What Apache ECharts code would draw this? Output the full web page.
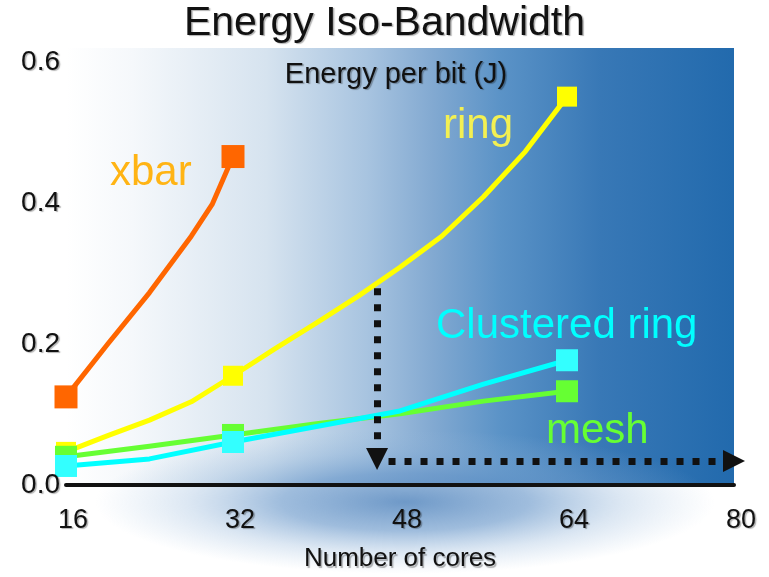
<!DOCTYPE html>
<html><head><meta charset="utf-8">
<script src="https://cdn.jsdelivr.net/npm/echarts@6/dist/echarts.min.js"></script>
<style>html,body{margin:0;padding:0;background:#fff}#c{width:769px;height:577px}</style>
</head><body><div id="c"></div>
<script>
// ---- data ----
const xTicks = [16, 32, 48, 64, 80];
const yTicks = [0.0, 0.2, 0.4, 0.6];
const xbarCores = [16, 20, 24, 28, 30, 32];
const xbarEnergy = [0.125, 0.200, 0.273, 0.353, 0.398, 0.466];
const ringCores = [16, 20, 24, 28, 32, 36, 40, 44, 48, 52, 56, 60, 64];
const ringEnergy = [0.047, 0.070, 0.092, 0.118, 0.155, 0.193, 0.230, 0.268, 0.309, 0.353, 0.409, 0.473, 0.551];
const meshCores = [16, 24, 32, 40, 48, 56, 64];
const meshEnergy = [0.040, 0.055, 0.071, 0.087, 0.101, 0.119, 0.133];
const crCores = [16, 24, 32, 40, 48, 56, 64];
const crEnergy = [0.027, 0.037, 0.061, 0.083, 0.105, 0.143, 0.177];
const markerCores = [16, 32, 64];
const arrowDown = [[45.8, 0.279], [45.8, 0.037]];
const arrowRight = [[46.9, 0.034], [80, 0.034]];
const seriesNames = ['xbar', 'ring', 'Clustered ring', 'mesh'];

const FONT = '"Liberation Sans", Arial, sans-serif';
const shadow = {textShadowColor: 'rgba(0,0,0,0.3)', textShadowOffsetX: 1.5, textShadowOffsetY: 1.5, textShadowBlur: 1};

function pts(xs, ys) { return xs.map((x, i) => [x, ys[i]]); }
function mkSeries(name, xs, ys, color, lineColor, size, extra) {
  return Object.assign({
    name, type: 'line', data: pts(xs, ys),
    showAllSymbol: true, symbol: 'rect',
    symbolSize: (v) => markerCores.indexOf(v[0]) >= 0 ? size : 0,
    itemStyle: {color: color},
    lineStyle: {color: lineColor, width: 5, join: 'round'},
    smooth: false,
    emphasis: {disabled: true},
    animation: false
  }, extra || {});
}

const chart = echarts.init(document.getElementById('c'));
chart.setOption({
  animation: false,
  title: [
    {text: 'Energy Iso-Bandwidth', left: 'center', top: 3, padding: 0,
     textStyle: Object.assign({fontFamily: FONT, fontSize: 41, fontWeight: 'normal', color: '#111'}, shadow)},
    {text: 'Energy per bit (J)', left: 396, textAlign: 'center', top: 60, padding: 0,
     textStyle: Object.assign({fontFamily: FONT, fontSize: 29, fontWeight: 'normal', color: '#111'}, shadow)}
  ],
  grid: {
    left: 66, right: 35, top: 48, bottom: 91, show: true, borderWidth: 0,
    backgroundColor: {type: 'linear', x: 0, y: 0, x2: 1, y2: 0, colorStops: [
      {offset: 0, color: '#ffffff'}, {offset: 0.1, color: '#f5f8fb'},
      {offset: 0.3, color: '#d6e3ef'}, {offset: 0.45, color: '#a8c4e0'},
      {offset: 0.55, color: '#82a9d1'}, {offset: 0.65, color: '#5b93c7'},
      {offset: 0.8, color: '#3878b6'}, {offset: 1, color: '#226aad'}]}
  },
  xAxis: {
    type: 'value', min: xTicks[0], max: xTicks[xTicks.length - 1], interval: 16, z: 5,
    name: 'Number of cores', nameLocation: 'middle', nameGap: 61,
    nameTextStyle: Object.assign({fontFamily: FONT, fontSize: 26, color: '#111', padding: [0, 0, 0, 0]}, shadow),
    axisLine: {show: true, lineStyle: {color: '#111', width: 4}},
    axisTick: {show: false}, splitLine: {show: false},
    axisLabel: Object.assign({fontFamily: FONT, fontSize: 27, color: '#111', margin: 22, padding: [0, 0, 0, 14],
      formatter: (v) => xTicks.indexOf(v) >= 0 ? String(v) : ''}, shadow)
  },
  yAxis: {
    type: 'value', min: 0, max: 0.62, interval: 0.2, z: 5,
    axisLine: {show: false}, axisTick: {show: false}, splitLine: {show: false},
    axisLabel: Object.assign({fontFamily: FONT, fontSize: 28, color: '#111', margin: 6, showMaxLabel: false,
      formatter: (v) => yTicks.some(t => Math.abs(t - v) < 1e-9) ? v.toFixed(1) : ''}, shadow)
  },
  graphic: [
    {type: 'circle', silent: true, z: 1, x: 405, y: 502, scaleX: 4.3, scaleY: 1,
     shape: {cx: 0, cy: 0, r: 72},
     style: {fill: {type: 'radial', x: 0.5, y: 0.5, r: 0.5, colorStops: [
       {offset: 0, color: 'rgba(85,135,190,0.85)'}, {offset: 0.4, color: 'rgba(100,148,200,0.62)'},
       {offset: 0.7, color: 'rgba(130,170,212,0.28)'}, {offset: 1, color: 'rgba(150,185,220,0)'}]}}},
    {type: 'text', silent: true, z: 10, x: 110, y: 173,
     style: {text: seriesNames[0], fill: '#ffb414', fontSize: 42, fontFamily: FONT, verticalAlign: 'middle'}},
    {type: 'text', silent: true, z: 10, x: 443, y: 126,
     style: {text: seriesNames[1], fill: '#f3f052', fontSize: 42, fontFamily: FONT, verticalAlign: 'middle'}},
    {type: 'text', silent: true, z: 10, x: 436, y: 326,
     style: {text: seriesNames[2], fill: '#00ffff', fontSize: 42, fontFamily: FONT, verticalAlign: 'middle'}},
    {type: 'text', silent: true, z: 10, x: 546, y: 431,
     style: {text: seriesNames[3], fill: '#66ff33', fontSize: 42, fontFamily: FONT, verticalAlign: 'middle'}}
  ],
  series: [
    mkSeries('xbar', xbarCores, xbarEnergy, '#ff6600', '#ff6600', 23),
    mkSeries('ring', ringCores, ringEnergy, '#ffff00', '#ffff00', 20, {
      markLine: {
        silent: true, symbol: ['none', 'triangle'], symbolSize: [22, 22],
        lineStyle: {color: '#111', width: 7, type: [7, 9], cap: 'butt'},
        label: {show: false}, emphasis: {disabled: true},
        data: [
          [{coord: arrowDown[0]}, {coord: arrowDown[1]}],
          [{coord: arrowRight[0]}, {coord: arrowRight[1]}]
        ]
      }
    }),
    mkSeries('mesh', meshCores, meshEnergy, '#66ff33', '#66ff33', 22),
    mkSeries('Clustered ring', crCores, crEnergy, '#33ffff', '#00ffff', 22)
  ]
});
</script></body></html>
